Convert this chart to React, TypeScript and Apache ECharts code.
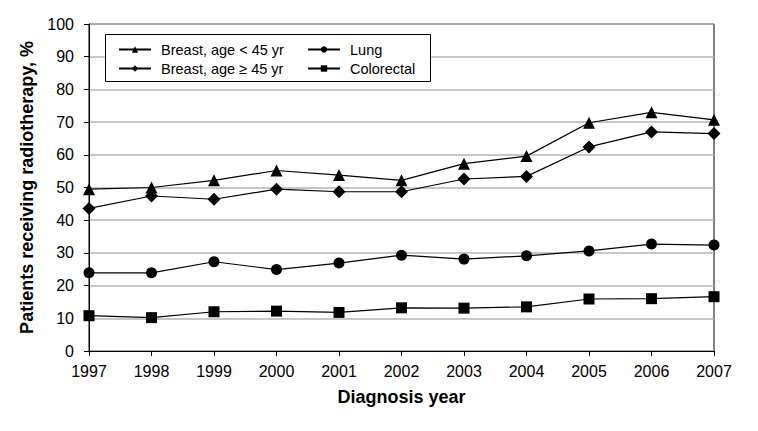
import React, { useEffect, useRef } from "react";
import * as echarts from "echarts";

const years = ["1997", "1998", "1999", "2000", "2001", "2002", "2003", "2004", "2005", "2006", "2007"];
const breastYoung = [49.5, 50, 52.2, 55.2, 53.8, 52.2, 57.3, 59.6, 69.8, 73, 70.7];
const breastOld = [43.6, 47.4, 46.4, 49.5, 48.7, 48.7, 52.6, 53.4, 62.4, 67, 66.5];
const lung = [23.9, 23.9, 27.3, 24.9, 26.9, 29.3, 28.1, 29.1, 30.6, 32.7, 32.4];
const colorectal = [10.8, 10.2, 12, 12.2, 11.8, 13.2, 13.1, 13.5, 15.9, 16, 16.6];

const names = ["Breast, age < 45 yr", "Breast, age ≥ 45 yr", "Lung", "Colorectal"];
const FONT = "Liberation Sans, Arial, Helvetica, sans-serif";

export default function App() {
  const ref = useRef<HTMLDivElement>(null);
  useEffect(() => {
    if (!ref.current) return;
    const chart = echarts.init(ref.current, undefined, { renderer: "svg" });
    const mk = (name: string, data: number[], symbol: string, size: number) => ({
      name,
      type: "line",
      data,
      symbol,
      symbolSize: size,
      showSymbol: true,
      lineStyle: { color: "#000", width: 1.2 },
      itemStyle: { color: "#000" },
      emphasis: { disabled: true },
    });
    const legendCommon = {
      orient: "vertical",
      padding: 0,
      itemGap: 4,
      itemWidth: 32,
      itemHeight: 8,
      textStyle: { fontFamily: FONT, fontSize: 14.5, color: "#000", padding: [0, 0, 0, 5] },
      selectedMode: false,
      z: 10,
    };
    chart.setOption({
      animation: false,
      textStyle: { fontFamily: FONT },
      grid: {
        left: 89,
        right: 44,
        top: 24,
        bottom: 80,
        show: true,
        borderColor: "#000",
        borderWidth: 1,
        backgroundColor: "transparent",
      },
      legend: [
        { ...legendCommon, left: 118, top: 42, data: [names[0], names[1]] },
        { ...legendCommon, left: 307, top: 42, data: [names[2], names[3]] },
      ],
      graphic: [
        {
          type: "rect",
          shape: { x: 105.5, y: 34.5, width: 325, height: 47 },
          style: { fill: "#fff", stroke: "#000", lineWidth: 1 },
          z: 3,
        },
      ],
      xAxis: {
        type: "category",
        data: years,
        boundaryGap: false,
        name: "Diagnosis year",
        nameLocation: "middle",
        nameGap: 37,
        nameTextStyle: { fontFamily: FONT, fontSize: 18, fontWeight: "bold", color: "#000" },
        axisLine: { lineStyle: { color: "#000", width: 1 } },
        axisTick: { show: true, inside: false, length: 5, lineStyle: { color: "#000" } },
        axisLabel: { fontFamily: FONT, fontSize: 16, color: "#000", margin: 12 },
        splitLine: { show: false },
      },
      yAxis: {
        type: "value",
        min: 0,
        max: 100,
        interval: 10,
        name: "Patients receiving radiotherapy, %",
        nameLocation: "middle",
        nameGap: 52,
        nameTextStyle: { fontFamily: FONT, fontSize: 18, fontWeight: "bold", color: "#000" },
        axisLine: { show: true, lineStyle: { color: "#000", width: 1 } },
        axisTick: { show: true, inside: false, length: 5, lineStyle: { color: "#000" } },
        axisLabel: { fontFamily: FONT, fontSize: 16, color: "#000", margin: 15 },
        splitLine: { show: true, lineStyle: { color: "#b4b4b4", width: 1.5 } },
      },
      series: [
        mk(names[0], breastYoung, "triangle", 12),
        mk(names[1], breastOld, "diamond", 13),
        mk(names[2], lung, "circle", 11),
        mk(names[3], colorectal, "rect", 11),
      ],
    });
    return () => chart.dispose();
  }, []);
  return (
    <div
      ref={ref}
      style={{ position: "absolute", left: 0, top: 0, width: 758, height: 431, background: "#fff" }}
    />
  );
}
